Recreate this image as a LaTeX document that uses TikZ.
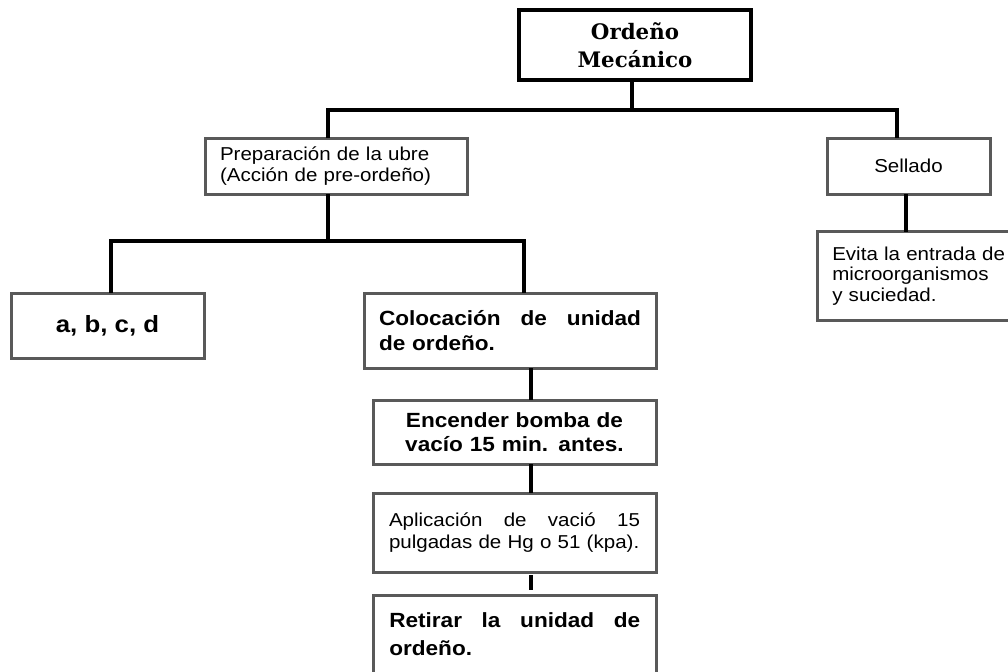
\documentclass[tikz,border=0pt]{standalone}
\usepackage{fontspec}
\newfontfamily\swfont[FakeStretch=1.1]{Liberation Sans}
\newfontfamily\ttlfont{DejaVu Serif}
\newcommand\myreg{\swfont\fontsize{14}{16.3}\selectfont}
\newcommand\mybld{\swfont\bfseries\fontsize{15.4}{18.4}\selectfont}
\usetikzlibrary{calc}
\begin{document}
\begin{tikzpicture}[x=0.75pt,y=-0.75pt,
  box/.style={draw=black!65, line width=2.25pt, fill=white, inner sep=0pt, outer sep=0pt},
  boxline/.style={draw=black!65, line width=2.25pt},
  conn/.style={draw=black, line width=2.6pt}]
\useasboundingbox (0,0) rectangle (1008,672);

% boxes
\node[box, draw=black, line width=2.6pt, minimum width=174pt, minimum height=52.5pt,
  align=center, font=\ttlfont\bfseries\fontsize{16}{21}\selectfont]
  (top) at (635,45) {Ordeño\\Mecánico};
\node[box, minimum width=196.5pt, minimum height=42pt, text width=174pt, align=left, font=\myreg]
  (prep) at (336,166) {Preparación de la ubre\\(Acción de pre-ordeño)};
\node[box, minimum width=122.25pt, minimum height=42pt, align=center, font=\myreg]
  (sell) at (908.5,166) {Sellado};
% Evita box: open on the right (cut by the page edge)
\node[anchor=west, inner xsep=11.25pt, inner ysep=0pt, minimum height=66pt, text width=138pt, align=left,
  font=\swfont\fontsize{14}{15.6}\selectfont]
  (evi) at (817,276) {Evita la entrada de\\microorganismos\\y suciedad.};
\coordinate (edgeR) at (1008,0);
\draw[boxline] (evi.north -| edgeR) -- (evi.north west) -- (evi.south west) -- (evi.south -| edgeR);
\node[box, minimum width=144.75pt, minimum height=48.75pt, align=center,
  font=\swfont\bfseries\fontsize{17.6}{20}\selectfont]
  (abcd) at (107.5,325.5) {a, b, c, d};
\node[box, minimum width=219pt, minimum height=56.25pt, text width=196.5pt, align=left, font=\mybld]
  (col) at (510,330.5) {Colocación\hfill de\hfill unidad\\de ordeño.};
\node[box, minimum width=212.25pt, minimum height=48pt, text width=188.25pt, align=center, font=\mybld]
  (enc) at (514.5,432) {Encender bomba de\\vacío 15 min. antes.};
\node[box, minimum width=212.25pt, minimum height=59.25pt, text width=188.25pt, align=left,
  font=\swfont\fontsize{14}{16}\selectfont]
  (apl) at (514.5,532.5) {Aplicación\hfill de\hfill vació\hfill 15\\pulgadas de Hg o 51 (kpa).};
% Retirar box: open at the bottom (cut by the page edge)
\node[anchor=north west, inner sep=0pt, minimum width=212.25pt, minimum height=57pt]
  (ret) at (373,595) {};
\draw[boxline] (ret.south west) -- (ret.north west) -- (ret.north east) -- (ret.south east);
\node[anchor=base west, inner sep=0pt, text width=188.25pt, align=left,
  font=\swfont\bfseries\fontsize{15.4}{21}\selectfont]
  (rett) at (389,627) {Retirar\hfill la\hfill unidad\hfill de\\ordeño.};

% junctions
\coordinate (h1M) at (632,110);
\coordinate (h1L) at (328,110);
\coordinate (h1R) at (897,110);
\coordinate (h2M) at (328,241);
\coordinate (h2L) at (111,241);
\coordinate (h2R) at (524,241);
\coordinate (v1) at (906,0);
\coordinate (v2) at (531,0);

% connectors
\draw[conn] (top.south -| h1M) -- (h1M);
\draw[conn] (prep.north -| h1L) -- (h1L) -- (h1R) -- (sell.north -| h1R);
\draw[conn] (prep.south -| h2M) -- (h2M);
\draw[conn] (abcd.north -| h2L) -- (h2L) -- (h2R) -- (col.north -| h2R);
\draw[conn] (sell.south -| v1) -- (evi.north -| v1);
\draw[conn] (col.south -| v2) -- (enc.north -| v2);
\draw[conn] (enc.south -| v2) -- (apl.north -| v2);
\draw[conn, shorten <=2.5pt, shorten >=3.5pt] (apl.south -| v2) -- (ret.north -| v2);
\end{tikzpicture}
\end{document}
